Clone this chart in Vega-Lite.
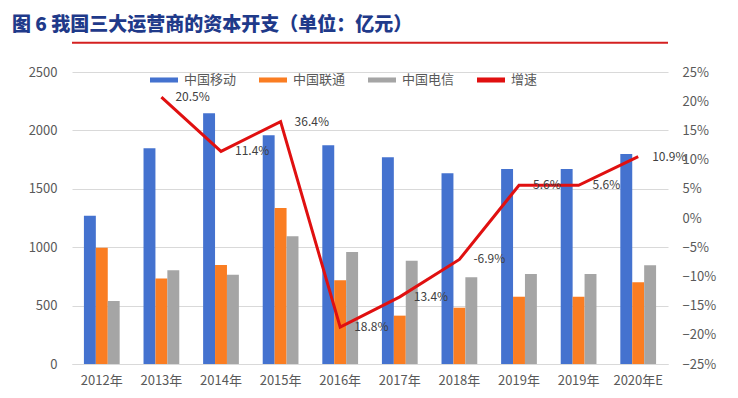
{
  "$schema": "https://vega.github.io/schema/vega-lite/v6.json",
  "width": 596,
  "height": 292,
  "autosize": "none",
  "padding": {"left": 72, "top": 72, "right": 70, "bottom": 34},
  "background": "white",
  "title": {
    "text": "图 6  我国三大运营商的资本开支（单位：亿元）",
    "anchor": "start",
    "frame": "group",
    "font": "Noto Sans CJK SC",
    "fontSize": 19,
    "fontWeight": 900,
    "color": "#1F3A8A",
    "dx": -60,
    "offset": 7
  },
  "datasets": {
    "bars": [
      {"年份": "2012年", "运营商": "中国移动", "资本开支": 1270},
      {"年份": "2012年", "运营商": "中国联通", "资本开支": 996},
      {"年份": "2012年", "运营商": "中国电信", "资本开支": 539},
      {"年份": "2013年", "运营商": "中国移动", "资本开支": 1847},
      {"年份": "2013年", "运营商": "中国联通", "资本开支": 733},
      {"年份": "2013年", "运营商": "中国电信", "资本开支": 802},
      {"年份": "2014年", "运营商": "中国移动", "资本开支": 2146},
      {"年份": "2014年", "运营商": "中国联通", "资本开支": 848},
      {"年份": "2014年", "运营商": "中国电信", "资本开支": 765},
      {"年份": "2015年", "运营商": "中国移动", "资本开支": 1958},
      {"年份": "2015年", "运营商": "中国联通", "资本开支": 1336},
      {"年份": "2015年", "运营商": "中国电信", "资本开支": 1093},
      {"年份": "2016年", "运营商": "中国移动", "资本开支": 1872},
      {"年份": "2016年", "运营商": "中国联通", "资本开支": 716},
      {"年份": "2016年", "运营商": "中国电信", "资本开支": 959},
      {"年份": "2017年", "运营商": "中国移动", "资本开支": 1770},
      {"年份": "2017年", "运营商": "中国联通", "资本开支": 414},
      {"年份": "2017年", "运营商": "中国电信", "资本开支": 885},
      {"年份": "2018年", "运营商": "中国移动", "资本开支": 1633},
      {"年份": "2018年", "运营商": "中国联通", "资本开支": 482},
      {"年份": "2018年", "运营商": "中国电信", "资本开支": 742},
      {"年份": "2019年", "运营商": "中国移动", "资本开支": 1670},
      {"年份": "2019年", "运营商": "中国联通", "资本开支": 576},
      {"年份": "2019年", "运营商": "中国电信", "资本开支": 771},
      {"年份": "2019年 ", "运营商": "中国移动", "资本开支": 1670},
      {"年份": "2019年 ", "运营商": "中国联通", "资本开支": 576},
      {"年份": "2019年 ", "运营商": "中国电信", "资本开支": 771},
      {"年份": "2020年E", "运营商": "中国移动", "资本开支": 1798},
      {"年份": "2020年E", "运营商": "中国联通", "资本开支": 700},
      {"年份": "2020年E", "运营商": "中国电信", "资本开支": 845}
    ],
    "growth": [
      {"年份": "2013年", "系列": "增速", "增速": 0.207, "标签": "20.5%"},
      {"年份": "2014年", "系列": "增速", "增速": 0.114, "标签": "11.4%"},
      {"年份": "2015年", "系列": "增速", "增速": 0.165, "标签": "36.4%"},
      {"年份": "2016年", "系列": "增速", "增速": -0.187, "标签": "18.8%"},
      {"年份": "2017年", "系列": "增速", "增速": -0.135, "标签": "13.4%"},
      {"年份": "2018年", "系列": "增速", "增速": -0.071, "标签": "-6.9%"},
      {"年份": "2019年", "系列": "增速", "增速": 0.056, "标签": "5.6%"},
      {"年份": "2019年 ", "系列": "增速", "增速": 0.056, "标签": "5.6%"},
      {"年份": "2020年E", "系列": "增速", "增速": 0.105, "标签": "10.9%"}
    ],
    "underline": [{"位置": 2750}]
  },
  "encoding": {
    "x": {
      "field": "年份",
      "type": "nominal",
      "sort": ["2012年", "2013年", "2014年", "2015年", "2016年", "2017年", "2018年", "2019年", "2019年 ", "2020年E"],
      "scale": {"paddingInner": 0.4, "paddingOuter": 0.2},
      "axis": {
        "title": null,
        "labelAngle": 0,
        "labelFont": "Noto Sans CJK SC",
        "labelFontSize": 13,
        "labelColor": "#595959",
        "labelPadding": 10,
        "ticks": false,
        "domainColor": "#D9D9D9",
        "domainWidth": 1,
        "grid": false
      }
    }
  },
  "layer": [
    {
      "layer": [
        {
          "data": {"name": "bars"},
          "mark": {"type": "bar"},
          "encoding": {
            "xOffset": {
              "field": "运营商",
              "type": "nominal",
              "sort": ["中国移动", "中国联通", "中国电信"],
              "scale": {"paddingInner": 0, "paddingOuter": 0}
            },
            "y": {
              "field": "资本开支",
              "type": "quantitative",
              "scale": {"domain": [0, 2500], "nice": false},
              "axis": {
                "title": null,
                "values": [0, 500, 1000, 1500, 2000, 2500],
                "format": "d",
                "labelFont": "Noto Sans CJK SC",
                "labelFontSize": 13,
                "labelColor": "#595959",
                "labelPadding": 15,
                "labelOverlap": false,
                "ticks": false,
                "domain": false,
                "grid": true,
                "gridColor": "#D9D9D9",
                "gridWidth": 1
              }
            },
            "color": {
              "field": "运营商",
              "type": "nominal",
              "scale": {
                "domain": ["中国移动", "中国联通", "中国电信", "增速"],
                "range": ["#4472CF", "#FA7D22", "#A5A5A5", "#E01010"]
              },
              "legend": {
                "title": null,
                "orient": "none",
                "direction": "horizontal",
                "legendX": 78,
                "legendY": -6,
                "padding": 0,
                "symbolType": "M-1,-0.18H1V0.18H-1Z",
                "symbolSize": 784,
                "symbolStrokeWidth": 0,
                "labelFont": "Noto Sans CJK SC",
                "labelFontSize": 13,
                "labelColor": "#595959",
                "labelOffset": 6,
                "columnPadding": 22
              }
            }
          }
        },
        {
          "data": {"name": "underline"},
          "mark": {"type": "rule", "color": "#D42020", "strokeWidth": 2, "clip": false},
          "encoding": {
            "x": null,
            "y": {"field": "位置", "type": "quantitative"}
          }
        }
      ]
    },
    {
      "data": {"name": "growth"},
      "encoding": {
        "y": {
          "field": "增速",
          "type": "quantitative",
          "scale": {"domain": [-0.25, 0.25], "nice": false},
          "axis": {
            "orient": "right",
            "title": null,
            "values": [-0.25, -0.2, -0.15, -0.1, -0.05, 0, 0.05, 0.1, 0.15, 0.2, 0.25],
            "format": ".0%",
            "labelFont": "Noto Sans CJK SC",
            "labelFontSize": 13,
            "labelColor": "#595959",
            "labelPadding": 14,
            "labelOverlap": false,
            "labelFlush": false,
            "ticks": false,
            "domain": false,
            "grid": false
          }
        }
      },
      "layer": [
        {
          "mark": {"type": "line", "strokeWidth": 3},
          "encoding": {
            "color": {"field": "系列", "type": "nominal"}
          }
        },
        {
          "mark": {"type": "text", "align": "left", "baseline": "middle", "dx": 14, "font": "Noto Sans CJK SC", "fontSize": 12, "color": "#404040"},
          "encoding": {
            "text": {"field": "标签", "type": "nominal"}
          }
        }
      ]
    }
  ],
  "resolve": {"scale": {"y": "independent"}},
  "config": {"view": {"stroke": null}}
}
